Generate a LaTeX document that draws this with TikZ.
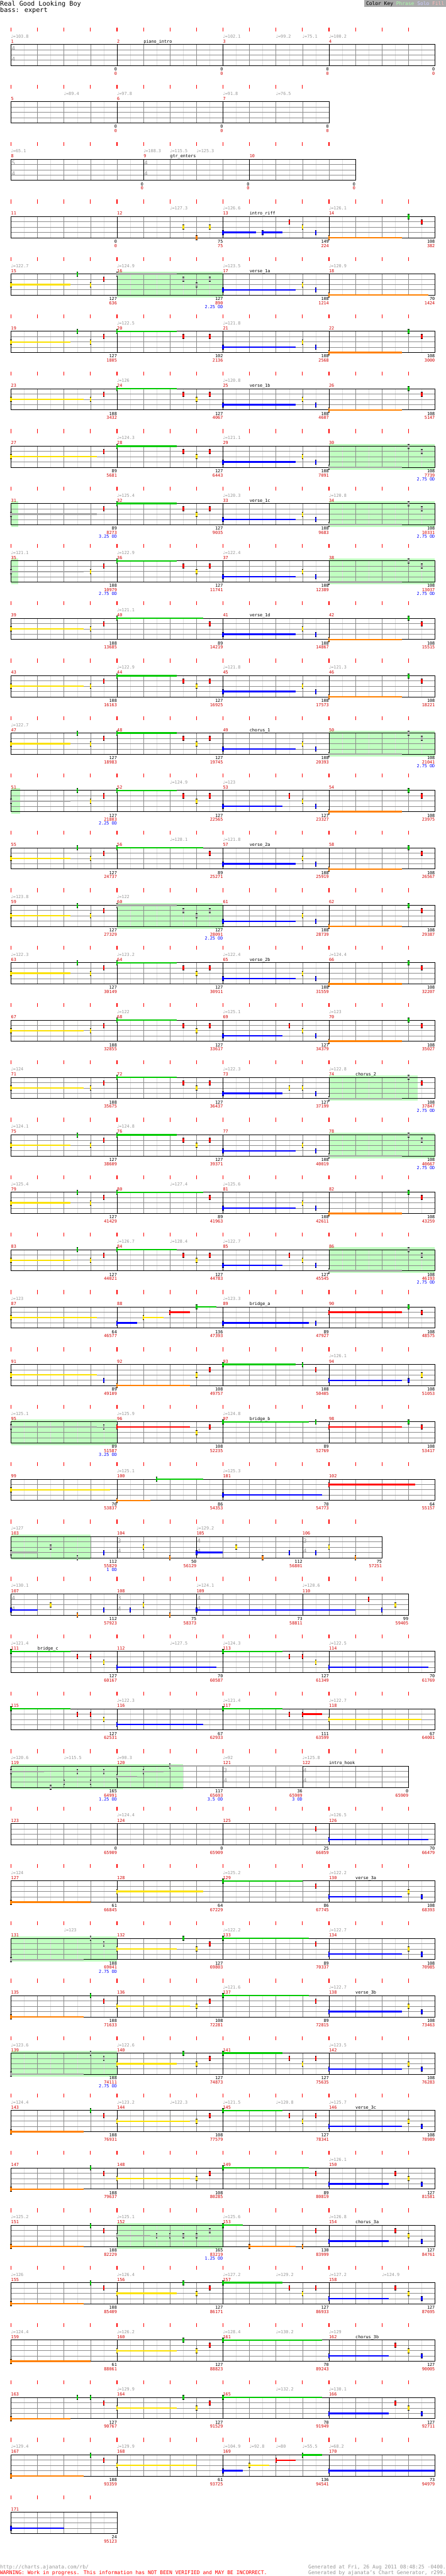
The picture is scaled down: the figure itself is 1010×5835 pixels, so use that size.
\documentclass[tikz,border=0pt]{standalone}
\usepackage{fontspec}
\setmainfont{DejaVu Sans Mono}
\newfontfamily\notefont{DejaVu Sans}

\pgfdeclarelayer{phr}
\pgfsetlayers{phr,main}

\definecolor{lane0}{RGB}{0,200,0}
\definecolor{lane1}{RGB}{255,0,0}
\definecolor{lane2}{RGB}{250,225,0}
\definecolor{lane3}{RGB}{0,0,255}
\definecolor{lane4}{RGB}{255,128,0}
\definecolor{notegray}{RGB}{165,165,165}
\definecolor{phrfill}{RGB}{192,255,192}
\definecolor{txtgray}{RGB}{150,150,150}
\definecolor{keygray}{RGB}{170,170,170}
\definecolor{numred}{RGB}{210,0,0}
\definecolor{phrasekey}{RGB}{170,255,170}
\definecolor{solokey}{RGB}{204,204,255}
\definecolor{fillkey}{RGB}{255,187,187}

% one row of the chart: #1 row, #2 beats
\newcommand\setrow[2]{%
  \pgfmathsetmacro\rowy{100.5+130*#1}%
  \pgfmathsetmacro\rowb{\rowy+48}%
  \def\rowid{#1}%
  \pgfmathtruncatemacro\rowlast{#2-1}%
  \foreach \i in {0,...,\rowlast}
    \draw[tickmark] ({25+60*\i},\rowy-38.5) -- ++(0,9);
  \foreach \i in {0,...,\rowlast}
    \draw[halfline] ({55+60*\i},\rowy) -- ++(0,48);
  \foreach \i in {1,...,\rowlast}
    \draw[beatline] ({25+60*\i},\rowy) -- ++(0,48);
  \foreach \j in {1,2,3}
    \draw[laneline] (25,\rowy+12*\j) -- ({25+60*#2},\rowy+12*\j);
  \draw[staffline] (25,\rowy) rectangle ({25+60*#2},\rowb);
}
\newcommand\msr[2]{%
  \draw[staffline, line width=1] ({25+60*#1},\rowy) -- ++(0,48);
  \node[mnum] (m#2) at ({25+60*#1},\rowy-3.5) {#2};}
\newcommand\stdrow[2]{\setrow{#1}{16}%
  \pgfmathtruncatemacro\mnb{#2+1}\pgfmathtruncatemacro\mnc{#2+2}%
  \pgfmathtruncatemacro\mnd{#2+3}%
  \msr{0}{#2}\msr{4}{\mnb}\msr{8}{\mnc}\msr{12}{\mnd}}
\newcommand\bpm[2]{\node[tempotxt] (t\rowid-#1) at ({25+60*#1},\rowy-15) {{\notefont ♩}=#2};}
\newcommand\secname[2]{\node[sectxt] (sec\rowid) at ({25+60*#1},\rowy-3.5) {#2};}
\newcommand\tsig[3]{%
  \node[tsnum] (tsa\rowid-#1) at ({26.5+60*#1},\rowy+14) {#2};
  \node[tsnum] (tsb\rowid-#1) at ({26.5+60*#1},\rowy+38) {#3};}
\newcommand\msrscore[3]{%
  \node[scoreb] (b\rowid-#1) at ({25+60*#1},\rowb+12) {#2};
  \node[scorer] (r\rowid-#1) at ({25+60*#1},\rowb+21.5) {#3};}
\newcommand\scores[1]{\foreach \ba/\rd [count=\kk] in {#1}
  {\pgfmathtruncatemacro\eb{4*\kk}\msrscore{\eb}{\ba}{\rd}}}
\newcommand\odtxt[2]{\node[odnum] (od\rowid-#1) at ({25+60*#1},\rowb+30.3) {#2};}
\newcommand\phrase[2]{\begin{pgfonlayer}{phr}
  \fill[phrfill] ({25+60*#1},\rowy-5) rectangle ({25+60*#2},\rowb+5);
  \end{pgfonlayer}}

% notes
\newcommand\notebar[3]{%
  \fill[#1] ({25+60*#2-1.75},\rowy+12*#3-5) rectangle ++(3.5,10);
  \draw[black, line width=0.9] ({25+60*#2-1.75},\rowy+12*#3-5) -- ++(3.5,0)
    ({25+60*#2-1.75},\rowy+12*#3+5) -- ++(3.5,0);}
\newcommand\sustain[4]{\draw[#1, line width=3.3]
  ({25+60*#2},\rowy+12*#3) -- ({25+60*#4},\rowy+12*#3);}
\newcommand\nt[2]{\notebar{lane#2}{#1}{#2}}
\newcommand\gnt[2]{\notebar{notegray}{#1}{#2}}
\newcommand\snt[3]{\sustain{lane#2}{#1}{#2}{#3}\notebar{lane#2}{#1}{#2}}
\newcommand\gsnt[3]{\sustain{notegray}{#1}{#2}{#3}\notebar{notegray}{#1}{#2}}

\begin{document}
\begin{tikzpicture}[x=1pt, y=-1pt,
    tickmark/.style={red, line width=1.6},
    halfline/.style={black!12, line width=0.8},
    beatline/.style={black!45, line width=0.9},
    laneline/.style={black!45, line width=1},
    staffline/.style={black, line width=1.2},
    txt/.style={inner sep=0, font=\fontsize{9.7}{10}\selectfont},
    mnum/.style={txt, numred, anchor=base west},
    tempotxt/.style={txt, txtgray, anchor=base west},
    sectxt/.style={txt, black, anchor=base west},
    tsnum/.style={inner sep=0, txtgray, anchor=base west, font=\fontsize{13}{13}\selectfont},
    scoreb/.style={txt, black, anchor=base east},
    scorer/.style={txt, numred, anchor=base east},
    odnum/.style={txt, lane3, anchor=base east},
    foot/.style={inner sep=0, font=\fontsize{11.5}{12}\selectfont}]
\useasboundingbox (0,0) rectangle (1010,5835);

% kopf
\node[inner sep=0, anchor=base west, font=\fontsize{14.5}{15}\selectfont] (title) at (0,13.3) {Real Good Looking Boy};
\node[inner sep=0, anchor=base west, font=\fontsize{14.5}{15}\selectfont] (part) at (0,27.3) {bass: expert};
\fill[keygray] (825,0) rectangle (1010,15.7);
\node[inner sep=0, anchor=base west, font=\fontsize{11.3}{12}\selectfont] (key) at (829,11.5)
  {Color Key \textcolor{phrasekey}{Phrase} \textcolor{solokey}{Solo} \textcolor{fillkey}{Fill}};

% m1-4
\stdrow{0}{1}\tsig{0}{4}{4}
\bpm{0}{103.8}\bpm{8}{102.1}\bpm{10}{99.2}\bpm{11}{75.1}\bpm{12}{100.2}\secname{5}{piano\_intro}
\scores{0/0,0/0,0/0,0/0}

% m5-7
\setrow{1}{12}\msr{0}{5}\msr{4}{6}\msr{8}{7}
\bpm{2}{89.4}\bpm{4}{97.8}\bpm{8}{91.8}\bpm{10}{76.5}
\scores{0/0,0/0,0/0}

% m8-10
\setrow{2}{13}\msr{0}{8}\msr{5}{9}\msr{9}{10}\tsig{0}{5}{4}\tsig{5}{4}{4}
\bpm{0}{65.1}\bpm{5}{108.3}\bpm{6}{115.5}\bpm{7}{125.3}\secname{6}{gtr\_enters}
\msrscore{5}{0}{0}\msrscore{9}{0}{0}\msrscore{13}{0}{0}

% m11-14
\stdrow{3}{11}
\bpm{6}{127.3}\bpm{8}{126.6}\bpm{12}{126.1}\secname{9}{intro\_riff}
\nt{6.5}{2}\nt{7}{4}\nt{7.5}{2}\snt{8}{3}{9.25}\snt{9.5}{3}{10.25}\nt{10.5}{1}\nt{11}{2}\nt{11.5}{3}\snt{12}{4}{14.75}\nt{15}{0}\nt{15.5}{1}
\scores{0/0,75/75,149/224,108/382}

% m15-18
\stdrow{4}{15}\phrase{4}{8}
\bpm{0}{122.7}\bpm{4}{124.9}\bpm{8}{123.5}\bpm{12}{120.9}\secname{9}{verse\_1a}
\snt{0}{2}{2.25}\nt{2.5}{0}\nt{3}{2}\nt{3.5}{1}\gsnt{4}{0}{6.25}\gnt{6.5}{1}\gnt{7}{2}\gnt{7.5}{1}\snt{8}{3}{10.75}\nt{11}{2}\nt{11.5}{3}\snt{12}{4}{15.75}
\scores{127/636,127/890,108/1214,70/1424}\odtxt{8}{2.25 OD}

% m19-22
\stdrow{5}{19}
\bpm{4}{122.5}\bpm{8}{121.8}
\snt{0}{2}{2.25}\nt{2.5}{0}\nt{3}{2}\nt{3.5}{1}\snt{4}{0}{6.25}\nt{6.5}{1}\nt{7.5}{1}\snt{8}{3}{10.75}\nt{11}{2}\nt{11.5}{3}\snt{12}{4}{14.75}\nt{15}{0}\nt{15.5}{1}
\scores{127/1805,102/2136,108/2568,108/3000}

% m23-26
\stdrow{6}{23}
\bpm{4}{126}\bpm{8}{120.8}\secname{9}{verse\_1b}
\snt{0}{2}{2.75}\nt{3}{2}\nt{3.5}{1}\snt{4}{0}{6.25}\nt{6.5}{1}\nt{7}{2}\nt{7.5}{1}\snt{8}{3}{10.75}\nt{11}{2}\nt{11.5}{3}\snt{12}{4}{14.75}\nt{15}{0}\nt{15.5}{1}
\scores{108/3432,127/4067,108/4607,108/5147}

% m27-30
\stdrow{7}{27}\phrase{12}{16}
\bpm{4}{124.3}\bpm{8}{121.1}
\snt{0}{2}{3.25}\nt{3.5}{1}\snt{4}{0}{6.25}\nt{6.5}{1}\nt{7}{2}\nt{7.5}{1}\snt{8}{3}{10.75}\nt{11}{2}\nt{11.5}{3}\gsnt{12}{4}{14.75}\gnt{15}{0}\gnt{15.5}{1}
\scores{89/5681,127/6443,108/7091,108/7739}\odtxt{16}{2.75 OD}

% m31-34
\stdrow{8}{31}\phrase{0}{0.27}\phrase{12}{16}
\bpm{4}{125.4}\bpm{8}{120.3}\bpm{12}{120.8}\secname{9}{verse\_1c}
\gsnt{0}{2}{3.25}\nt{3.5}{1}\snt{4}{0}{6.25}\nt{6.5}{1}\nt{7}{2}\nt{7.5}{1}\snt{8}{3}{10.75}\nt{11}{2}\nt{11.5}{3}\gsnt{12}{4}{14.75}\gnt{15}{0}\gnt{15.5}{1}
\scores{89/8273,127/9035,108/9683,108/10331}\odtxt{4}{3.25 OD}\odtxt{16}{2.75 OD}

% m35-38
\stdrow{9}{35}\phrase{0}{0.27}\phrase{12}{16}
\bpm{0}{121.1}\bpm{4}{122.9}\bpm{8}{122.4}
\gsnt{0}{2}{2.75}\nt{3}{2}\nt{3.5}{1}\snt{4}{0}{6.25}\nt{6.5}{1}\nt{7}{2}\nt{7.5}{1}\snt{8}{3}{10.75}\nt{11}{2}\nt{11.5}{3}\gsnt{12}{4}{14.75}\gnt{15}{0}\gnt{15.5}{1}
\scores{108/10979,127/11741,108/12389,108/13037}\odtxt{4}{2.75 OD}\odtxt{16}{2.75 OD}

% m39-42
\stdrow{10}{39}
\bpm{4}{121.1}\secname{9}{verse\_1d}
\snt{0}{2}{2.75}\nt{3}{2}\nt{3.5}{1}\snt{4}{0}{7.25}\nt{7.5}{1}\snt{8}{3}{10.75}\nt{11}{2}\nt{11.5}{3}\snt{12}{4}{14.75}\nt{15}{0}\nt{15.5}{1}
\scores{108/13685,89/14219,108/14867,108/15515}

% m43-46
\stdrow{11}{43}
\bpm{4}{122.9}\bpm{8}{121.8}\bpm{12}{121.3}
\snt{0}{2}{2.75}\nt{3}{2}\nt{3.5}{1}\snt{4}{0}{6.25}\nt{6.5}{1}\nt{7}{2}\nt{7.5}{1}\snt{8}{3}{10.75}\nt{11}{2}\nt{11.5}{3}\snt{12}{4}{14.75}\nt{15}{0}\nt{15.5}{1}
\scores{108/16163,127/16925,108/17573,108/18221}

% m47-50
\stdrow{12}{47}\phrase{12}{16}
\bpm{0}{122.7}\secname{9}{chorus\_1}
\snt{0}{2}{2.25}\nt{2.5}{0}\nt{3}{2}\nt{3.5}{1}\snt{4}{0}{6.25}\nt{6.5}{1}\nt{7}{2}\nt{7.5}{1}\snt{8}{3}{10.75}\nt{11}{2}\nt{11.5}{3}\gsnt{12}{4}{14.75}\gnt{15}{0}\gnt{15.5}{1}
\scores{127/18983,127/19745,108/20393,108/21041}\odtxt{16}{2.75 OD}

% m51-54
\stdrow{13}{51}\phrase{0}{0.35}
\bpm{6}{124.9}\bpm{8}{123}
\gsnt{0}{2}{2.25}\nt{2.5}{0}\nt{3}{2}\nt{3.5}{1}\snt{4}{0}{6.25}\nt{6.5}{1}\nt{7}{2}\nt{7.5}{1}\snt{8}{3}{10.25}\nt{10.5}{1}\nt{11}{2}\nt{11.5}{3}\snt{12}{4}{14.75}\nt{15}{0}\nt{15.5}{1}
\scores{127/21803,127/22565,127/23327,108/23975}\odtxt{4}{2.25 OD}

% m55-58
\stdrow{14}{55}
\bpm{6}{128.1}\bpm{8}{121.8}\secname{9}{verse\_2a}
\snt{0}{2}{2.25}\nt{2.5}{0}\nt{3}{2}\nt{3.5}{1}\snt{4}{0}{7.25}\nt{7.5}{1}\snt{8}{3}{10.75}\nt{11}{2}\nt{11.5}{3}\snt{12}{4}{14.75}\nt{15}{0}\nt{15.5}{1}
\scores{127/24737,89/25271,108/25919,108/26567}

% m59-62
\stdrow{15}{59}\phrase{4}{8}
\bpm{0}{123.8}\bpm{4}{122}
\snt{0}{2}{2.25}\nt{2.5}{0}\nt{3}{2}\nt{3.5}{1}\gsnt{4}{0}{6.25}\gnt{6.5}{1}\gnt{7}{2}\gnt{7.5}{1}\snt{8}{3}{10.75}\nt{11}{2}\nt{11.5}{3}\snt{12}{4}{14.75}\nt{15}{0}\nt{15.5}{1}
\scores{127/27329,127/28091,108/28739,108/29387}\odtxt{8}{2.25 OD}

% m63-66
\stdrow{16}{63}
\bpm{0}{122.3}\bpm{4}{123.2}\bpm{8}{122.4}\bpm{12}{124.4}\secname{9}{verse\_2b}
\snt{0}{2}{2.25}\nt{2.5}{0}\nt{3}{2}\nt{3.5}{1}\snt{4}{0}{6.25}\nt{6.5}{1}\nt{7}{2}\nt{7.5}{1}\snt{8}{3}{10.75}\nt{11}{2}\nt{11.5}{3}\snt{12}{4}{14.75}\nt{15}{0}\nt{15.5}{1}
\scores{127/30149,127/30911,108/31559,108/32207}

% m67-70
\stdrow{17}{67}
\bpm{4}{122}\bpm{8}{125.1}\bpm{12}{123}
\snt{0}{2}{2.75}\nt{3}{2}\nt{3.5}{1}\snt{4}{0}{6.25}\nt{6.5}{1}\nt{7}{2}\nt{7.5}{1}\snt{8}{3}{10.25}\nt{10.5}{1}\nt{11}{2}\nt{11.5}{3}\snt{12}{4}{14.75}\nt{15}{0}\nt{15.5}{1}
\scores{108/32855,127/33617,127/34379,108/35027}

% m71-74
\stdrow{18}{71}\phrase{12}{15.35}
\bpm{0}{124}\bpm{8}{122.3}\bpm{12}{122.8}\secname{13}{chorus\_2}
\snt{0}{2}{2.75}\nt{3}{2}\nt{3.5}{1}\snt{4}{0}{6.25}\nt{6.5}{1}\nt{7}{2}\nt{7.5}{1}\snt{8}{3}{10.25}\nt{10.5}{2}\nt{11}{2}\nt{11.5}{3}\gsnt{12}{4}{14.75}\gnt{15}{0}\nt{15.5}{1}
\scores{108/35675,127/36437,127/37199,108/37847}\odtxt{16}{2.75 OD}

% m75-78
\stdrow{19}{75}\phrase{12}{16}
\bpm{0}{124.1}\bpm{4}{124.8}
\snt{0}{2}{2.25}\nt{2.5}{0}\nt{3}{2}\nt{3.5}{1}\snt{4}{0}{6.25}\nt{6.5}{1}\nt{7}{2}\nt{7.5}{1}\snt{8}{3}{10.75}\nt{11}{2}\nt{11.5}{3}\gsnt{12}{4}{14.75}\gnt{15}{0}\gnt{15.5}{1}
\scores{127/38609,127/39371,108/40019,108/40667}\odtxt{16}{2.75 OD}

% m79-82
\stdrow{20}{79}
\bpm{0}{125.4}\bpm{6}{127.4}\bpm{8}{125.6}
\snt{0}{2}{2.25}\nt{2.5}{0}\nt{3}{2}\nt{3.5}{1}\snt{4}{0}{7.25}\nt{7.5}{1}\snt{8}{3}{10.75}\nt{11}{2}\nt{11.5}{3}\snt{12}{4}{14.75}\nt{15}{0}\nt{15.5}{1}
\scores{127/41429,89/41963,108/42611,108/43259}

% m83-86
\stdrow{21}{83}\phrase{12}{16}
\bpm{4}{126.7}\bpm{6}{128.4}\bpm{8}{122.7}
\snt{0}{2}{2.25}\nt{2.5}{0}\nt{3}{2}\nt{3.5}{1}\snt{4}{0}{6.25}\nt{6.5}{1}\nt{7}{2}\nt{7.5}{1}\snt{8}{3}{10.25}\nt{10.5}{1}\nt{11}{2}\nt{11.5}{3}\gsnt{12}{4}{14.75}\gnt{15}{0}\gnt{15.5}{1}
\scores{127/44021,127/44783,127/45545,108/46193}\odtxt{16}{2.75 OD}

% m87-90
\stdrow{22}{87}
\bpm{0}{123}\bpm{8}{123.3}\secname{9}{bridge\_a}
\snt{0}{2}{3.25}\snt{4}{3}{4.75}\snt{5}{2}{5.75}\snt{6}{1}{6.75}\snt{7}{0}{7.75}\snt{8}{3}{11.25}\nt{11.5}{3}\snt{12}{1}{14.75}\nt{15}{0}\nt{15.5}{1}
\scores{64/46577,136/47393,89/47927,108/48575}

% m91-94
\stdrow{23}{91}
\bpm{12}{126.1}
\snt{0}{2}{3.25}\nt{3.5}{3}\snt{4}{4}{6.75}\nt{7}{2}\nt{7.5}{1}\snt{8}{0}{10.75}\nt{11}{0}\nt{11.5}{1}\snt{12}{3}{14.75}\nt{15}{3}\nt{15.5}{2}
\scores{89/49109,108/49757,108/50405,108/51053}

% m95-98
\stdrow{24}{95}\phrase{0}{4}
\bpm{0}{125.1}\bpm{4}{125.9}\bpm{8}{124.8}\secname{9}{bridge\_b}
\gsnt{0}{1}{3.25}\gnt{3.5}{1}\snt{4}{1}{6.75}\nt{7}{2}\nt{7.5}{1}\snt{8}{0}{11.25}\nt{11.5}{0}\snt{12}{1}{14.75}\nt{15}{0}\nt{15.5}{1}
\scores{89/51587,108/52235,89/52769,108/53417}\odtxt{4}{3.25 OD}

% m99-102
\stdrow{25}{99}
\bpm{4}{125.1}\bpm{8}{125.3}
\snt{0}{2}{3.75}\snt{4}{4}{5.25}\snt{5.5}{0}{7.25}\snt{8}{3}{11.75}\snt{12}{1}{15.25}
\scores{70/53837,86/54353,70/54773,64/55157}

% m103-106
\setrow{26}{14}\msr{0}{103}\msr{4}{104}\msr{7}{105}\msr{11}{106}\phrase{0}{3}
\tsig{4}{3}{4}\tsig{7}{4}{4}\tsig{11}{3}{4}
\bpm{0}{127}\bpm{7}{129.2}
\gsnt{0}{3}{1}\gnt{1.5}{2}\gnt{2.5}{4}\nt{3.5}{3}\nt{5}{2}\nt{6}{4}\snt{7}{3}{8}\nt{8.5}{2}\nt{9.5}{4}\nt{10.5}{3}\nt{11.5}{3}\nt{12}{2}\nt{13}{4}
\msrscore{4}{112}{55829}\msrscore{7}{50}{56129}\msrscore{11}{112}{56801}\msrscore{14}{75}{57251}\odtxt{4}{1 OD}

% m107-110
\setrow{27}{15}\msr{0}{107}\msr{4}{108}\msr{7}{109}\msr{11}{110}
\tsig{0}{4}{4}\tsig{4}{3}{4}\tsig{7}{4}{4}
\bpm{0}{130.1}\bpm{7}{124.1}\bpm{11}{120.6}
\snt{0}{3}{1}\nt{1.5}{2}\nt{2.5}{4}\nt{3.5}{3}\nt{4.5}{3}\nt{5}{2}\nt{6}{4}\snt{7}{3}{13}\nt{13.5}{1}\nt{14}{3}\nt{14.5}{2}
\msrscore{4}{112}{57923}\msrscore{7}{75}{58373}\msrscore{11}{73}{58811}\msrscore{15}{99}{59405}

% m111-114
\stdrow{28}{111}
\bpm{0}{121.4}\bpm{6}{127.5}\bpm{8}{124.3}\bpm{12}{122.5}\secname{1}{bridge\_c}
\snt{0}{0}{2.25}\nt{2.5}{1}\nt{3}{1}\nt{3.5}{2}\snt{4}{3}{7.75}\snt{8}{0}{10.25}\nt{10.5}{1}\nt{11}{1}\nt{11.5}{2}\snt{12}{3}{15.75}
\scores{127/60167,70/60587,127/61349,70/61769}

% m115-118
\stdrow{29}{115}
\bpm{4}{122.3}\bpm{8}{121.4}\bpm{12}{122.7}
\snt{0}{0}{2.25}\nt{2.5}{1}\nt{3}{1}\nt{3.5}{2}\snt{4}{3}{7.25}\snt{8}{0}{10.25}\nt{10.5}{1}\snt{11}{1}{11.75}\snt{12}{2}{15.5}
\scores{127/62531,67/62933,111/63599,67/64001}

% m119-122
\setrow{30}{15}\msr{0}{119}\msr{4}{120}\msr{8}{121}\msr{11}{122}\phrase{0}{6.5}
\tsig{8}{3}{4}\tsig{11}{4}{4}
\bpm{0}{120.6}\bpm{2}{115.5}\bpm{4}{90.3}\bpm{8}{92}\bpm{11}{125.8}\secname{12}{intro\_hook}
\gsnt{0}{1}{1.25}\gnt{1.5}{4}\gnt{2}{3}\gnt{2.5}{1}\gnt{3}{3}\gnt{3.5}{1}\gsnt{4}{2}{4.75}\gsnt{5}{1}{5.75}\gsnt{6}{0}{11}
\msrscore{4}{165}{64991}\msrscore{8}{117}{65693}\msrscore{11}{36}{65909}\msrscore{15}{0}{65909}
\odtxt{4}{1.25 OD}\odtxt{8}{3.5 OD}\odtxt{11}{3 OD}

% m123-126
\stdrow{31}{123}
\bpm{4}{124.4}\bpm{12}{126.5}
\nt{11.5}{1}\snt{12}{3}{15.75}
\scores{0/65909,0/65909,25/66059,70/66479}

% m127-130
\stdrow{32}{127}
\bpm{0}{124}\bpm{8}{125.2}\bpm{12}{122.2}\secname{13}{verse\_3a}
\snt{0}{4}{3}\snt{4}{2}{7.25}\snt{8}{0}{11}\nt{11.5}{1}\snt{12}{3}{14.75}\nt{15}{2}\nt{15.5}{3}
\scores{61/66845,64/67229,86/67745,108/68393}

% m131-134
\stdrow{33}{131}\phrase{0}{4}
\bpm{2}{123}\bpm{8}{122.2}\bpm{12}{122.7}
\gsnt{0}{4}{2.75}\gnt{3}{0}\gnt{3.5}{1}\snt{4}{2}{6.25}\nt{6.5}{0}\nt{7}{2}\nt{7.5}{1}\snt{8}{0}{11.25}\nt{11.5}{1}\snt{12}{3}{14.75}\nt{15}{2}\nt{15.5}{3}
\scores{108/69041,127/69803,89/70337,108/70985}\odtxt{4}{2.75 OD}

% m135-138
\stdrow{34}{135}
\bpm{8}{121.6}\bpm{12}{122.7}\secname{13}{verse\_3b}
\snt{0}{4}{2.75}\nt{3}{0}\nt{3.5}{1}\snt{4}{2}{6.75}\nt{7}{2}\nt{7.5}{1}\snt{8}{0}{11.25}\nt{11.5}{1}\snt{12}{3}{14.75}\nt{15}{2}\nt{15.5}{3}
\scores{108/71633,108/72281,89/72815,108/73463}

% m139-142
\stdrow{35}{139}\phrase{0}{4}
\bpm{0}{123.6}\bpm{4}{122.6}\bpm{12}{123.5}
\gsnt{0}{4}{2.75}\gnt{3}{0}\gnt{3.5}{1}\snt{4}{2}{6.25}\nt{6.5}{0}\nt{7}{2}\nt{7.5}{1}\snt{8}{0}{10.25}\nt{10.5}{1}\nt{11}{2}\nt{11.5}{1}\snt{12}{3}{14.75}\nt{15}{2}\nt{15.5}{3}
\scores{108/74111,127/74873,127/75635,108/76283}\odtxt{4}{2.75 OD}

% m143-146
\stdrow{36}{143}
\bpm{0}{124.4}\bpm{4}{123.2}\bpm{6}{122.3}\bpm{8}{121.5}\bpm{10}{120.8}\bpm{12}{125.7}\secname{13}{verse\_3c}
\snt{0}{4}{2.75}\nt{3}{0}\nt{3.5}{1}\snt{4}{2}{6.75}\nt{7}{2}\nt{7.5}{1}\snt{8}{0}{10.25}\nt{10.5}{1}\nt{11}{2}\nt{11.5}{1}\snt{12}{3}{14.75}\nt{15}{2}\nt{15.5}{3}
\scores{108/76931,108/77579,127/78341,108/78989}

% m147-150
\stdrow{37}{147}
\bpm{12}{126.1}
\snt{0}{4}{2.75}\nt{3}{0}\nt{3.5}{1}\snt{4}{2}{6.75}\nt{7}{2}\nt{7.5}{1}\snt{8}{0}{11.25}\nt{11.5}{1}\snt{12}{3}{14.25}\nt{14.5}{1}\nt{15}{2}\nt{15.5}{3}
\scores{108/79637,108/80285,89/80819,127/81581}

% m151-154
\stdrow{38}{151}\phrase{4}{8}
\bpm{0}{125.2}\bpm{4}{125.1}\bpm{8}{125.6}\bpm{12}{126.8}\secname{13}{chorus\_3a}
\snt{0}{4}{2.75}\nt{3}{0}\nt{3.5}{1}\gsnt{4}{2}{5.25}\gnt{5.5}{2}\gnt{6}{2}\gnt{6.5}{2}\gnt{7}{2}\gnt{7.5}{1}\snt{8}{0}{8.75}\snt{9}{4}{10.75}\nt{11}{4}\nt{11.5}{1}\snt{12}{3}{14.25}\nt{14.5}{1}\nt{15}{2}\nt{15.5}{3}
\scores{108/82229,165/83219,130/83999,127/84761}\odtxt{8}{1.25 OD}

% m155-158
\stdrow{39}{155}
\bpm{0}{126}\bpm{4}{126.4}\bpm{8}{127.2}\bpm{10}{129.2}\bpm{12}{127.2}\bpm{14}{124.9}
\snt{0}{4}{2.75}\nt{3}{0}\nt{3.5}{1}\snt{4}{2}{6.25}\nt{6.5}{0}\nt{7}{2}\nt{7.5}{1}\snt{8}{0}{10.25}\nt{10.5}{1}\nt{11}{2}\nt{11.5}{1}\snt{12}{3}{14.25}\nt{14.5}{1}\nt{15}{2}\nt{15.5}{3}
\scores{108/85409,127/86171,127/86933,127/87695}

% m159-162
\stdrow{40}{159}
\bpm{0}{124.4}\bpm{4}{126.2}\bpm{8}{128.4}\bpm{10}{130.2}\bpm{12}{129}\secname{13}{chorus\_3b}
\snt{0}{4}{3}\snt{4}{2}{6.25}\nt{6.5}{0}\nt{7}{2}\nt{7.5}{1}\snt{8}{0}{11.75}\snt{12}{3}{14.25}\nt{14.5}{1}\nt{15}{2}\nt{15.5}{3}
\scores{61/88061,127/88823,70/89243,127/90005}

% m163-166
\stdrow{41}{163}
\bpm{4}{129.9}\bpm{10}{132.2}\bpm{12}{130.1}
\snt{0}{4}{2.25}\nt{2.5}{0}\nt{3}{0}\nt{3.5}{1}\snt{4}{2}{6.25}\nt{6.5}{0}\nt{7}{2}\nt{7.5}{1}\snt{8}{0}{11.75}\snt{12}{3}{14.25}\nt{14.5}{1}\nt{15}{2}\nt{15.5}{3}
\scores{127/90767,127/91529,70/91949,127/92711}

% m167-170
\stdrow{42}{167}
\bpm{0}{129.4}\bpm{4}{129.9}\bpm{8}{104.9}\bpm{9}{92.8}\bpm{10}{80}\bpm{11}{55.5}\bpm{12}{68.2}
\snt{0}{4}{2.75}\nt{3}{0}\nt{3.5}{1}\snt{4}{2}{7}\snt{8}{3}{8.75}\snt{9}{2}{9.75}\snt{10}{1}{10.75}\snt{11}{0}{11.75}\snt{12}{3}{16}
\scores{108/93359,61/93725,136/94541,73/94979}

% m171
\setrow{43}{4}\msr{0}{171}
\snt{0}{3}{2}
\msrscore{4}{24}{95123}

% fuss
\node[foot, txtgray, anchor=base west] (url) at (0,5818) {http://charts.ajanata.com/rb/};
\node[foot, red, anchor=base west] (warn) at (0,5832) {WARNING: Work in progress. This information has NOT BEEN VERIFIED and MAY BE INCORRECT.};
\node[foot, txtgray, anchor=base east] (gen1) at (1010,5818) {Generated at Fri, 26 Aug 2011 08:48:25 -0400.};
\node[foot, txtgray, anchor=base east] (gen2) at (1010,5832) {Generated by ajanata's Chart Generator, r299.};
\end{tikzpicture}
\end{document}
